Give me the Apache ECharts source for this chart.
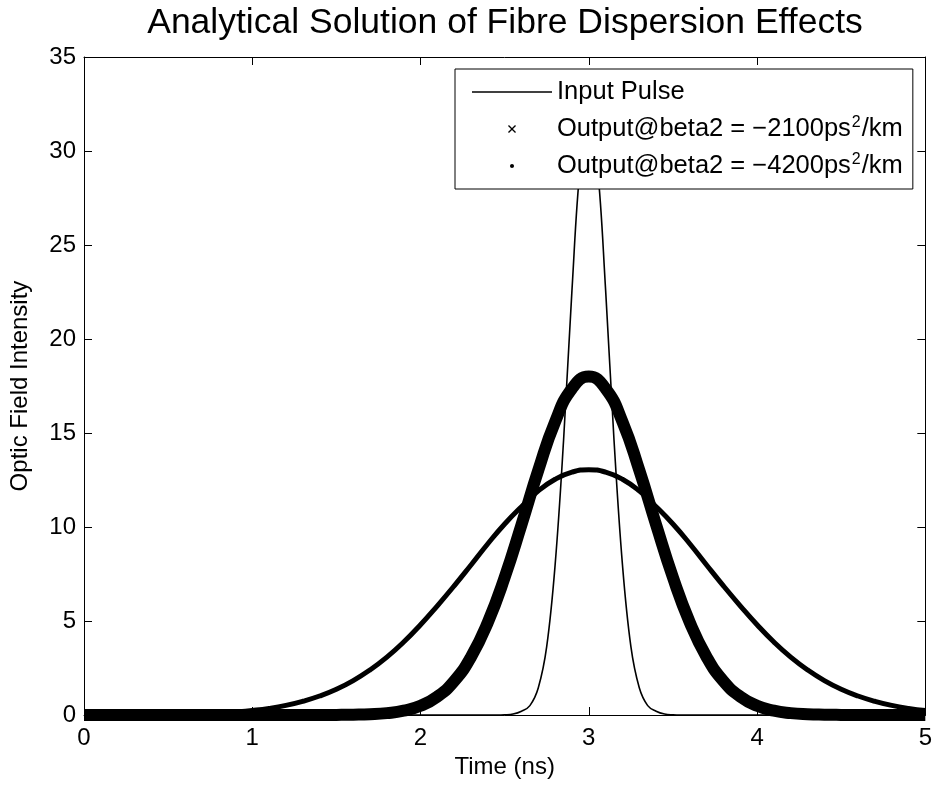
<!DOCTYPE html>
<html>
<head>
<meta charset="utf-8">
<script src="https://cdn.jsdelivr.net/npm/echarts@6/dist/echarts.min.js"></script>
<style>html,body{margin:0;padding:0;background:#fff;}#c{width:935px;height:785px;}</style>
</head>
<body>
<div id="c"></div>
<script>
// ---- data ----
const titleText = 'Analytical Solution of Fibre Dispersion Effects';
const xTicks = [0, 1, 2, 3, 4, 5];
const yTicks = [0, 5, 10, 15, 20, 25, 30, 35];

// Input pulse (time in ns, intensity)
const tIn = [0, 2.4, 2.45, 2.5, 2.55, 2.6, 2.65, 2.7, 2.75, 2.8, 2.85, 2.9, 2.95, 3.0,
             3.05, 3.1, 3.15, 3.2, 3.25, 3.3, 3.35, 3.4, 3.45, 3.5, 3.55, 3.6, 5];
const vIn = [0, 0, 0, 0.01, 0.05, 0.2, 0.5, 1.45, 3.65, 8.0, 14.6, 22.6, 29.3, 32.0,
             29.3, 22.6, 14.6, 8.0, 3.65, 1.45, 0.5, 0.2, 0.05, 0.01, 0, 0, 0];

// Output curves sampled every 0.1 ns
const tOut = [0,0.1,0.2,0.3,0.4,0.5,0.6,0.7,0.8,0.9,1.0,1.1,1.2,1.3,1.4,1.5,1.6,1.7,1.8,1.9,
              2.0,2.1,2.2,2.3,2.4,2.5,2.6,2.7,2.8,2.9,3.0,3.1,3.2,3.3,3.4,3.5,3.6,3.7,3.8,3.9,
              4.0,4.1,4.2,4.3,4.4,4.5,4.6,4.7,4.8,4.9,5.0];
const v2100 = [0,0,0,0,0,0,0,0,0,0,0,0,0,0,0,0.005,0.016,0.04,0.10,0.23,
               0.49,0.98,1.80,3.09,4.93,7.32,10.12,13.02,15.60,17.36,18.00,17.36,15.60,13.02,10.12,7.32,4.93,3.09,1.80,0.98,
               0.49,0.23,0.10,0.04,0.016,0.005,0,0,0,0,0];
const v4200 = [0.00,0.00,0.01,0.01,0.02,0.03,0.04,0.07,0.10,0.16,0.24,0.35,0.51,0.73,1.01,1.37,1.83,2.40,3.08,3.88,
               4.80,5.81,6.87,7.98,9.11,10.16,11.08,11.92,12.54,12.92,13.05,12.92,12.54,11.92,11.08,10.16,9.11,7.98,6.87,5.81,
               4.80,3.88,3.08,2.40,1.83,1.37,1.01,0.73,0.51,0.35,0.24];

const seriesNames = ['Input Pulse', 'Output@beta2 = \u22122100ps^2/km', 'Output@beta2 = \u22124200ps^2/km'];
const xName = 'Time (ns)';
const yName = 'Optic Field Intensity';

// ---- chart ----
const FONT = '"Liberation Sans", Arial, Helvetica, sans-serif';
const pair = (t, v) => t.map((x, i) => [x, v[i]]);

const chart = echarts.init(document.getElementById('c'), null, {renderer: 'canvas'});

const axisCommon = {
  type: 'value',
  axisLine: {show: true, onZero: false, lineStyle: {color: '#000', width: 1}},
  axisTick: {show: true, inside: true, length: 8, lineStyle: {color: '#000', width: 1}},
  splitLine: {show: false},
};

const X_ICON = 'path://M0,1.2 L1.2,0 L5,3.8 L8.8,0 L10,1.2 L6.2,5 L10,8.8 L8.8,10 L5,6.2 L1.2,10 L0,8.8 L3.8,5 Z';
const DOT_ICON = 'path://M0,0 L0.01,0 L0,0.01 Z M10,10 L9.99,10 L10,9.99 Z ' +
  'M7.6,5 L6.85,6.85 L5,7.6 L3.15,6.85 L2.4,5 L3.15,3.15 L5,2.4 L6.85,3.15 Z';
const LINE_ICON = 'path://M0,0 L80,0 L80,1.4 L0,1.4 Z';

chart.setOption({
  animation: false,
  backgroundColor: '#fff',
  title: {
    text: titleText,
    left: 505, top: 5, padding: 0, textAlign: 'center',
    textStyle: {fontFamily: FONT, fontSize: 35.5, fontWeight: 'normal', color: '#000'}
  },
  grid: {left: 84, right: 7, top: 57, bottom: 70, containLabel: false},
  legend: {
    orient: 'vertical',
    left: 455, top: 69,
    padding: [10, 10, 10, 17],
    itemWidth: 80, itemHeight: 8, itemGap: 10,
    backgroundColor: '#fff', borderColor: '#000', borderWidth: 1,
    z: 10,
    selectedMode: false,
    data: [
      {name: seriesNames[0], icon: LINE_ICON, itemStyle: {color: '#000', borderWidth: 0}},
      {name: seriesNames[1], icon: X_ICON, itemStyle: {color: '#000', borderWidth: 0}},
      {name: seriesNames[2], icon: DOT_ICON, itemStyle: {color: '#000', borderWidth: 0}}
    ],
    formatter: function (name) {
      const i = name.indexOf('^2');
      if (i < 0) return '{n|' + name + '}';
      return '{n|' + name.slice(0, i) + '}{s|2}{n|' + name.slice(i + 2) + '}';
    },
    textStyle: {
      color: '#000', fontFamily: FONT, fontSize: 25.5,
      rich: {
        n: {fontFamily: FONT, fontSize: 25.5, color: '#000', lineHeight: 26, verticalAlign: 'bottom'},
        s: {fontFamily: FONT, fontSize: 16, color: '#000', lineHeight: 16, verticalAlign: 'bottom', padding: [0, 1, 11, 1]}
      }
    }
  },
  xAxis: [
    Object.assign({}, axisCommon, {
      position: 'bottom', min: xTicks[0], max: xTicks[xTicks.length - 1], interval: 1,
      name: xName, nameLocation: 'middle', nameGap: 38,
      nameTextStyle: {fontFamily: FONT, fontSize: 24, color: '#000'},
      axisLabel: {show: true, margin: 11, fontFamily: FONT, fontSize: 24, color: '#000'}
    }),
    Object.assign({}, axisCommon, {
      position: 'top', min: xTicks[0], max: xTicks[xTicks.length - 1], interval: 1,
      axisLabel: {show: false}
    })
  ],
  yAxis: [
    Object.assign({}, axisCommon, {
      position: 'left', min: yTicks[0], max: yTicks[yTicks.length - 1], interval: 5,
      name: yName, nameLocation: 'middle', nameGap: 52,
      nameTextStyle: {fontFamily: FONT, fontSize: 24, color: '#000'},
      axisLabel: {show: true, margin: 8, fontFamily: FONT, fontSize: 24, color: '#000'}
    }),
    Object.assign({}, axisCommon, {
      position: 'right', min: yTicks[0], max: yTicks[yTicks.length - 1], interval: 5,
      axisLabel: {show: false}
    })
  ],
  series: [
    {
      name: seriesNames[0], type: 'line', data: pair(tIn, vIn),
      smooth: 0.4, symbol: 'none', clip: false, z: 2,
      lineStyle: {color: '#000', width: 1.6}, itemStyle: {color: '#000'}
    },
    {
      name: seriesNames[1], type: 'line', data: pair(tOut, v2100),
      smooth: 0.5, symbol: 'none', clip: false, z: 3,
      lineStyle: {color: '#000', width: 12, join: 'round', cap: 'butt'}, itemStyle: {color: '#000'}
    },
    {
      name: seriesNames[2], type: 'line', data: pair(tOut, v4200),
      smooth: 0.5, symbol: 'none', clip: false, z: 4,
      lineStyle: {color: '#000', width: 5, join: 'round'}, itemStyle: {color: '#000'}
    }
  ]
});
</script>
</body>
</html>
